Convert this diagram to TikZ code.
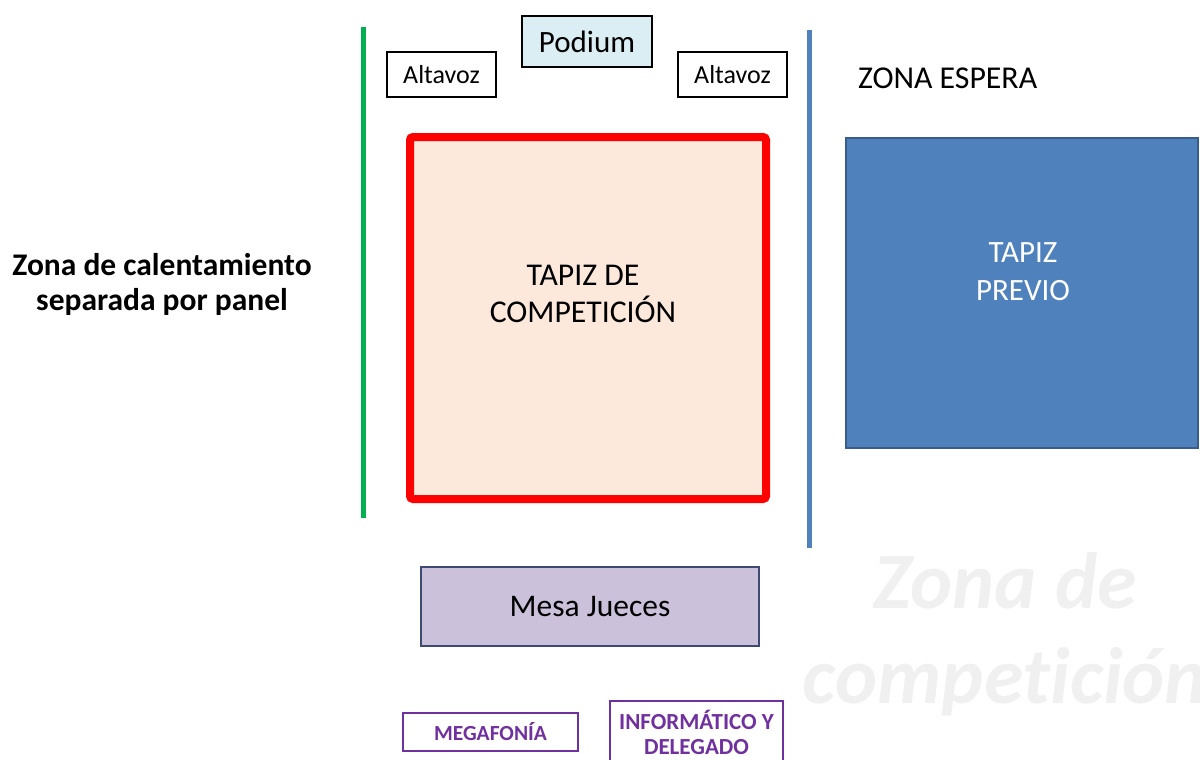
\documentclass[tikz,border=0pt]{standalone}
\usepackage{fontspec}
\setmainfont{Carlito}[Ligatures=NoCommon]
\definecolor{zgreen}{HTML}{00B050}
\definecolor{zblue}{HTML}{4F81BD}
\definecolor{zblueb}{HTML}{385D8A}
\definecolor{zred}{HTML}{FF0000}
\definecolor{zpeach}{HTML}{FCE9DC}
\definecolor{zpod}{HTML}{DBEEF3}
\definecolor{zlilac}{HTML}{CCC1DA}
\definecolor{zlilacb}{HTML}{3F4A72}
\definecolor{zpurple}{HTML}{7030A0}
\definecolor{zwater}{HTML}{F0F0F0}
\begin{document}
\begin{tikzpicture}[x=1pt,y=-1pt,every node/.style={outer sep=0pt},
  box/.style={draw=black,line width=1.2pt,anchor=north west,inner sep=0pt,align=center},
  purplebox/.style={draw=zpurple,line width=1.4pt,anchor=north west,inner sep=0pt,align=center,text=zpurple},
  panel/.style={line width=5pt}]
\useasboundingbox (0,0) rectangle (1200,760);
\clip (0,0) rectangle (1200,760);
% watermark
\node[text=zwater,font=\fontsize{80}{95}\selectfont\bfseries\itshape,align=center] (wm) at (1005,634) {Zona de\\competición};
% panels
\coordinate (g1) at (363,27); \coordinate (g2) at (363,518);
\coordinate (b1) at (809,30); \coordinate (b2) at (809,548);
\draw[panel,zgreen] (g1) -- (g2);
\draw[panel,zblue] (b1) -- (b2);
% top boxes
\node[box,fill=zpod,minimum width=130pt,minimum height=51pt,font=\fontsize{31}{36}\selectfont] (podium) at (522,16) {Podium};
\node[box,fill=white,minimum width=109pt,minimum height=45pt,font=\fontsize{26}{30}\selectfont] (alt1) at (387,52) {Altavoz};
\node[box,fill=white,minimum width=109pt,minimum height=45pt,font=\fontsize{26}{30}\selectfont] (alt2) at (678,52) {Altavoz};
\node[anchor=west,font=\fontsize{31.8}{36}\selectfont,inner sep=0pt] (espera) at (858,78) {ZONA ESPERA};
% main mat
\node[draw=zred,fill=zpeach,line width=8pt,rounded corners=3pt,anchor=north west,minimum width=356pt,minimum height=362pt,inner sep=0pt] (tapiz) at (410,137) {};
\node[font=\fontsize{31.7}{37}\selectfont,align=center] (tapiztxt) at (583,294) {TAPIZ DE\\COMPETICIÓN};
% previous mat
\node[draw=zblueb,fill=zblue,line width=1.5pt,anchor=north west,minimum width=352pt,minimum height=310pt,inner sep=0pt] (previo) at (846,138) {};
\node[font=\fontsize{31}{38}\selectfont,align=center,text=white] (previotxt) at (1023,272) {TAPIZ\\PREVIO};
% warm-up label
\node[font=\fontsize{31.5}{35}\selectfont\bfseries,align=center] (calent) at (162,284) {Zona de calentamiento\\separada por panel};
% judges
\node[draw=zlilacb,fill=zlilac,line width=1.8pt,anchor=north west,minimum width=338pt,minimum height=79pt,inner sep=0pt,font=\fontsize{31.5}{36}\selectfont] (mesa) at (421,567) {Mesa Jueces};
% bottom boxes
\node[purplebox,minimum width=175pt,minimum height=38pt,font=\fontsize{21.5}{25}\selectfont\bfseries] (mega) at (403,713) {MEGAFONÍA};
\node[purplebox,minimum width=173pt,minimum height=62pt,font=\fontsize{23}{25}\selectfont\bfseries] (info) at (610,701) {INFORMÁTICO Y\\DELEGADO};
\end{tikzpicture}
\end{document}
